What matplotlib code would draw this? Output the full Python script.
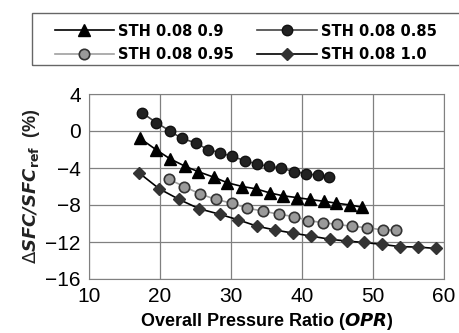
import matplotlib
matplotlib.use("Agg")
import matplotlib.pyplot as plt
from matplotlib.patches import Rectangle

plt.rcParams['font.family'] = ['Liberation Sans', 'DejaVu Sans']

opr_085 = [17.4, 19.5, 21.4, 23.05, 25.1, 26.7, 28.5, 30.1, 32.0, 33.7, 35.3, 37.0, 38.9, 40.6, 42.2, 43.8]
sfc_085 = [2.0, 0.9, 0.0, -0.8, -1.3, -2.0, -2.35, -2.75, -3.2, -3.6, -3.8, -4.0, -4.4, -4.6, -4.8, -5.0]

opr_09 = [17.2, 19.5, 21.4, 23.5, 25.4, 27.6, 29.5, 31.6, 33.5, 35.5, 37.3, 39.3, 41.1, 43.1, 44.8, 46.8, 48.5]
sfc_09 = [-0.8, -2.05, -3.0, -3.8, -4.4, -5.0, -5.6, -6.0, -6.25, -6.7, -7.0, -7.2, -7.4, -7.6, -7.8, -8.0, -8.25]

opr_095 = [21.2, 23.4, 25.6, 27.9, 30.1, 32.3, 34.5, 36.7, 38.9, 40.9, 43.0, 44.9, 47.1, 49.2, 51.4, 53.3]
sfc_095 = [-5.2, -6.0, -6.8, -7.4, -7.8, -8.35, -8.65, -9.0, -9.25, -9.7, -9.9, -10.1, -10.3, -10.45, -10.7, -10.7]

opr_10 = [17.0, 19.9, 22.7, 25.5, 28.4, 31.0, 33.7, 36.2, 38.8, 41.2, 43.9, 46.3, 48.7, 51.2, 53.8, 56.4, 58.9]
sfc_10 = [-4.5, -6.25, -7.4, -8.4, -9.0, -9.6, -10.3, -10.7, -11.05, -11.35, -11.7, -11.9, -12.05, -12.25, -12.5, -12.55, -12.7]

labels = ['STH 0.08 0.9', 'STH 0.08 0.85', 'STH 0.08 0.95', 'STH 0.08 1.0']
xticks = [10, 20, 30, 40, 50, 60]
yticks = [4, 0, -4, -8, -12, -16]

W, H = 459, 333
fig = plt.figure(figsize=(W/100, H/100), dpi=100)
ax = fig.add_axes([89/W, 1-279/H, (444-89)/W, (279-94)/H])

h1, = ax.plot(opr_09, sfc_09, color='black', lw=1.2, marker='^', ms=8, mfc='black', mec='black', label=labels[0])
h2, = ax.plot(opr_085, sfc_085, color='#444444', lw=1.2, marker='o', ms=7.5, mfc='#222222', mec='#111111', label=labels[1])
h3, = ax.plot(opr_095, sfc_095, color='#a0a0a0', lw=1.2, marker='o', ms=7.5, mfc='#9a9a9a', mec='#333333', mew=1.2, label=labels[2])
h4, = ax.plot(opr_10, sfc_10, color='black', lw=1.2, marker='D', ms=6, mfc='#333333', mec='#333333', label=labels[3])

ax.set_xlim(10, 60)
ax.set_ylim(-16, 4)
ax.set_xticks(xticks)
ax.set_yticks(yticks)
ax.grid(True, color='#808080', lw=0.9)
ax.set_axisbelow(True)
for s in ax.spines.values():
    s.set_color('#808080')
ax.tick_params(length=0, labelsize=15, pad=6)

ax.set_xlabel('Overall Pressure Ratio ($\\mathbfit{OPR}$)', fontsize=13, fontweight='bold', labelpad=3)
ax.set_ylabel('$\\Delta\\mathbfit{SFC/SFC}_{\\mathbf{ref}}$  (%)', fontsize=13, fontweight='bold', labelpad=2, color='#222222')

# legend frame (extends past right edge as in reference)
fig.patches.append(Rectangle((31.5/W, 1-64.5/H), (480-31.5)/W, (64.5-13.3)/H,
                             transform=fig.transFigure, fill=False, edgecolor='#666666', lw=1.0))

leg = fig.legend(handles=[h1, h3, h2, h4], loc='upper left', bbox_to_anchor=(40/W, 1-9/H), ncol=2,
                 frameon=False, prop={'family': 'DejaVu Sans', 'weight': 'bold', 'size': 10.5},
                 handlelength=4.1, columnspacing=1.6,
                 borderpad=0.5, labelspacing=0.6, handletextpad=0.25)

fig.savefig('out.png', dpi=100)
